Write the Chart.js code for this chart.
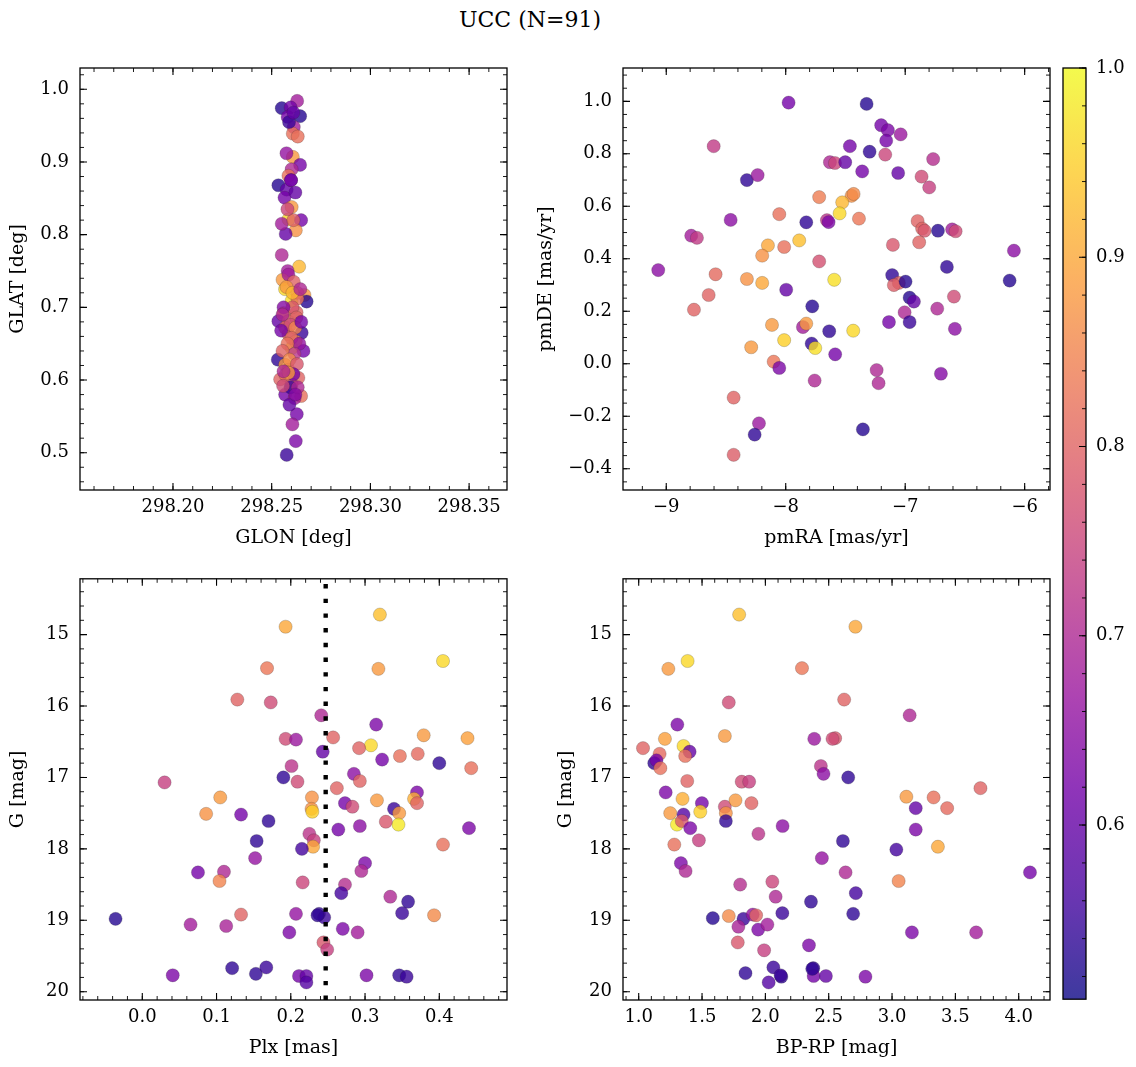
<!DOCTYPE html>
<html>
<head>
<meta charset="utf-8">
<script src="https://cdn.jsdelivr.net/npm/chart.js@4.4.1/dist/chart.umd.min.js"></script>
<style>
  html, body { margin:0; padding:0; background:#fff; }
  #wrap { position:relative; width:1136px; height:1067px; overflow:hidden; background:#fff; }
  #title { position:absolute; left:0; width:1060px; top:6px; text-align:center; font-family:"DejaVu Serif", serif; font-size:22px; line-height:28px; color:#000; }
  canvas { position:absolute; }
</style>
</head>
<body>
<div id="wrap"><div id="title">UCC (N=91)</div></div>
<script>
// ---------------- DATA ----------------
// Panel 1: sky position
const glon = [298.2551,298.2629,298.2596,298.2644,298.2581,298.2612,298.2607,298.2607,298.2644,298.2601,
  298.2585,298.2534,298.2576,298.2598,298.2565,298.2601,298.2585,298.2649,298.2622,298.2571,
  298.2551,298.2551,298.2639,298.2581,298.2555,298.2568,298.2601,298.2666,298.2677,298.2629,
  298.2560,298.2534,298.2585,298.2626,298.2652,298.2585,298.2568,298.2531,298.2601,298.2622,
  298.2661,298.2568,298.2585,298.2543,298.2635,298.2601,298.2568,298.2649,298.2616,298.2627,
  298.2605,298.2622,298.2576,
  298.2585,298.2612,298.2575,298.2630,298.2605,298.2560,298.2625,298.2595,298.2548,298.2620,
  298.2600,298.2640,298.2580,298.2615,298.2555,298.2590,298.2628,298.2570,298.2610,298.2595,
  298.2558,298.2632,298.2590,298.2610,298.2580,298.2620,298.2598,298.2588,298.2610,298.2575,
  298.2632,298.2555,298.2650,298.2605,298.2645,298.2585,298.2620,298.2560];
const glat = [0.974,0.984,0.975,0.963,0.962,0.948,0.939,0.907,0.896,0.890,
  0.881,0.868,0.862,0.875,0.851,0.838,0.821,0.820,0.806,0.801,
  0.815,0.772,0.756,0.750,0.738,0.725,0.709,0.717,0.708,0.720,
  0.692,0.681,0.681,0.693,0.665,0.663,0.672,0.628,0.644,0.653,
  0.640,0.621,0.614,0.601,0.603,0.594,0.580,0.578,0.575,0.553,
  0.539,0.516,0.497,
  0.745,0.735,0.728,0.712,0.700,0.700,0.686,0.676,0.668,0.672,
  0.658,0.650,0.650,0.636,0.640,0.628,0.622,0.607,0.608,0.590,
  0.592,0.590,0.566,0.820,0.835,0.858,0.875,0.955,0.968,0.912,
  0.935,0.690,0.680,0.720,0.725,0.610,0.580,0.612];
const probSky = [0.53,0.68,0.62,0.53,0.62,0.68,0.82,0.88,0.62,0.70,
  0.82,0.53,0.60,0.62,0.62,0.88,0.96,0.62,0.87,0.60,
  0.68,0.70,0.92,0.68,0.88,0.96,0.97,0.88,0.53,0.80,
  0.88,0.60,0.80,0.80,0.55,0.80,0.80,0.54,0.96,0.88,
  0.62,0.88,0.82,0.80,0.80,0.75,0.62,0.82,0.68,0.62,
  0.68,0.63,0.55,
  0.68,0.80,0.88,0.82,0.78,0.64,0.80,0.76,0.62,0.85,
  0.80,0.66,0.82,0.72,0.80,0.86,0.78,0.82,0.62,0.55,
  0.76,0.70,0.60,0.80,0.75,0.60,0.62,0.55,0.60,0.66,
  0.82,0.70,0.62,0.92,0.70,0.88,0.64,0.70];

// Panel 2: proper motions
const pmra = [-7.976,-7.323,-7.201,-7.145,-7.159,-7.038,-8.603,-7.463,-7.298,-7.167,
  -6.766,-7.630,-7.588,-7.502,-7.360,-7.059,-6.863,-6.799,-8.325,-8.235,
  -7.720,-7.449,-7.432,-7.527,-7.549,-8.054,-7.387,-7.828,-7.655,-7.641,
  -8.461,-6.896,-6.858,-6.838,-6.726,-6.607,-6.578,-8.791,-8.743,-6.090,
  -9.067,-7.103,-6.883,-8.149,-8.013,-7.887,-8.197,-7.720,-6.651,-8.587,
  -8.325,-8.197,-7.594,-7.109,-7.053,-7.095,-6.997,-6.126,-7.996,-8.645,
  -8.768,-7.778,-6.963,-6.927,-6.592,-6.732,-7.005,-7.136,-6.963,-6.584,
  -8.115,-7.856,-7.828,-7.636,-7.435,-8.013,-8.289,-7.783,-7.753,-7.586,
  -8.101,-8.054,-7.239,-7.223,-6.701,-7.758,-8.436,-8.224,-8.260,-7.354,
  -8.436];
const pmde = [0.995,0.990,0.909,0.890,0.850,0.874,0.829,0.829,0.808,0.797,
  0.780,0.768,0.765,0.768,0.733,0.727,0.713,0.672,0.700,0.719,
  0.635,0.640,0.647,0.615,0.573,0.570,0.553,0.539,0.547,0.540,
  0.548,0.544,0.515,0.507,0.507,0.512,0.505,0.488,0.480,0.431,
  0.357,0.453,0.463,0.451,0.445,0.470,0.412,0.390,0.369,0.341,
  0.323,0.308,0.320,0.338,0.308,0.300,0.313,0.317,0.282,0.262,
  0.206,0.219,0.252,0.237,0.256,0.210,0.196,0.159,0.159,0.133,
  0.148,0.140,0.153,0.124,0.126,0.090,0.063,0.077,0.060,0.036,
  0.008,-0.016,-0.024,-0.074,-0.038,-0.064,-0.129,-0.227,-0.270,-0.250,
  -0.347];
const probPM = [0.62,0.53,0.62,0.63,0.62,0.67,0.73,0.62,0.54,0.75,
  0.71,0.70,0.75,0.60,0.62,0.60,0.76,0.74,0.54,0.67,
  0.84,0.87,0.86,0.92,0.96,0.82,0.83,0.54,0.72,0.63,
  0.65,0.80,0.80,0.78,0.53,0.68,0.76,0.68,0.73,0.65,
  0.65,0.78,0.80,0.90,0.82,0.93,0.87,0.77,0.54,0.81,
  0.87,0.90,0.97,0.54,0.80,0.79,0.53,0.53,0.60,0.80,
  0.80,0.53,0.53,0.60,0.76,0.70,0.70,0.62,0.55,0.65,
  0.88,0.68,0.88,0.54,0.96,0.95,0.88,0.54,0.97,0.62,
  0.83,0.63,0.70,0.70,0.64,0.70,0.80,0.67,0.54,0.53,
  0.79];

// Panel 3: parallax vs G
const plx = [0.320,0.193,0.405,0.168,0.318,0.128,0.173,0.241,0.315,0.379,0.438,0.193,0.207,0.257,0.308,0.292,0.243,0.323,0.347,0.371,0.400,0.443,0.201,0.030,0.190,0.209,0.285,0.293,0.262,0.370,0.105,
  0.2285,0.316,0.366,0.370,0.086,0.133,0.170,0.228,0.229,0.273,
  0.283,0.339,0.346,0.345,0.328,0.264,0.293,0.440,0.154,0.225,
  0.231,0.230,0.215,0.405,0.152,0.300,0.295,0.075,0.110,0.104,
  0.216,0.273,0.268,0.334,0.358,-0.036,0.065,0.113,0.133,0.207,
  0.238,0.245,0.350,0.393,0.198,0.270,0.290,0.244,0.249,0.121,
  0.153,0.167,0.041,0.211,0.221,0.221,0.302,0.346,0.356,0.236];
const gPlx = [14.72,14.89,15.37,15.47,15.48,15.91,15.95,16.13,16.26,16.41,16.45,16.46,16.47,16.44,16.55,16.59,16.64,16.75,16.70,16.67,16.80,16.87,16.84,17.07,17.00,17.06,16.95,17.05,17.15,17.21,17.28,
  17.28,17.32,17.30,17.36,17.51,17.52,17.61,17.44,17.48,17.36,
  17.41,17.44,17.50,17.66,17.62,17.73,17.68,17.71,17.89,17.79,
  17.88,17.97,18.00,17.94,18.13,18.20,18.31,18.33,18.32,18.45,
  18.47,18.50,18.62,18.67,18.74,18.98,19.06,19.08,18.92,18.91,
  18.91,18.96,18.90,18.93,19.17,19.12,19.17,19.31,19.41,19.67,
  19.75,19.66,19.77,19.78,19.78,19.87,19.77,19.77,19.79,18.93];
const probPlx = [0.93,0.90,0.96,0.83,0.88,0.80,0.76,0.70,0.63,0.88,0.89,0.76,0.67,0.80,0.96,0.80,0.60,0.62,0.82,0.81,0.54,0.82,0.72,0.74,0.54,0.76,0.65,0.80,0.80,0.63,0.88,
  0.87,0.88,0.91,0.80,0.87,0.62,0.54,0.87,0.95,0.62,
  0.76,0.55,0.88,0.98,0.78,0.62,0.65,0.63,0.54,0.72,
  0.74,0.90,0.56,0.82,0.66,0.63,0.70,0.62,0.70,0.85,
  0.75,0.71,0.56,0.70,0.54,0.53,0.68,0.69,0.80,0.66,
  0.54,0.55,0.55,0.86,0.63,0.63,0.68,0.78,0.74,0.54,
  0.54,0.55,0.63,0.62,0.60,0.58,0.63,0.54,0.55,0.54];
const plxCut = 0.247;

// Panel 4: colour-magnitude
const bprp = [1.793,2.711,1.386,1.234,2.289,1.711,2.622,3.139,1.305,1.207,1.680,2.386,2.551,2.530,1.034,1.354,1.402,1.165,1.367,1.123,1.140,1.171,2.438,2.459,2.654,1.383,1.813,1.872,3.698,
  1.213,1.346,1.499,1.680,1.764,1.890,3.113,3.328,3.435,3.187,
  1.249,1.354,1.486,1.688,1.688,1.302,1.340,1.407,1.475,1.945,
  2.136,3.187,1.281,2.612,3.034,3.362,1.333,1.370,2.446,2.633,
  4.089,3.052,1.801,2.055,2.081,2.360,2.714,1.585,1.711,1.827,
  1.900,1.927,2.134,2.693,1.787,1.943,2.016,3.157,3.664,1.782,
  1.990,2.344,1.843,2.063,2.126,2.026,2.378,2.381,2.478,2.790,2.370,2.120];
const gCol = [14.72,14.89,15.37,15.48,15.47,15.95,15.91,16.13,16.26,16.46,16.42,16.46,16.45,16.46,16.59,16.56,16.64,16.67,16.70,16.80,16.76,16.87,16.84,16.95,17.00,17.05,17.06,17.06,17.15,
  17.21,17.30,17.36,17.41,17.32,17.36,17.27,17.28,17.43,17.43,
  17.50,17.52,17.48,17.50,17.61,17.66,17.61,17.71,17.88,17.79,
  17.68,17.73,17.94,17.89,18.01,17.97,18.20,18.31,18.13,18.33,
  18.33,18.45,18.50,18.46,18.67,18.74,18.62,18.97,18.94,18.98,
  18.92,18.93,18.90,18.91,19.09,19.13,19.06,19.17,19.17,19.31,
  19.42,19.35,19.74,19.66,19.79,19.87,19.67,19.78,19.78,19.79,19.68,19.77];
const probCol = [0.93,0.90,0.96,0.88,0.83,0.76,0.80,0.70,0.63,0.89,0.88,0.67,0.78,0.76,0.80,0.96,0.60,0.81,0.82,0.54,0.62,0.82,0.72,0.65,0.54,0.80,0.76,0.74,0.80,
  0.63,0.91,0.62,0.76,0.88,0.80,0.88,0.82,0.81,0.60,
  0.88,0.58,0.95,0.87,0.54,0.98,0.78,0.63,0.74,0.72,
  0.65,0.63,0.82,0.54,0.56,0.90,0.63,0.70,0.66,0.70,
  0.62,0.85,0.71,0.75,0.70,0.54,0.56,0.53,0.86,0.55,
  0.66,0.80,0.55,0.54,0.69,0.63,0.68,0.63,0.68,0.78,
  0.74,0.63,0.54,0.55,0.54,0.58,0.54,0.62,0.60,0.63,0.54,0.55];

// Tick labels
const ticksGlon = [298.20, 298.25, 298.30, 298.35];
const ticksGlat = [0.5, 0.6, 0.7, 0.8, 0.9, 1.0];
const ticksPmra = [-9, -8, -7, -6];
const ticksPmde = [-0.4, -0.2, 0.0, 0.2, 0.4, 0.6, 0.8, 1.0];
const ticksPlx = [0.0, 0.1, 0.2, 0.3, 0.4];
const ticksG = [15, 16, 17, 18, 19, 20];
const ticksBprp = [1.0, 1.5, 2.0, 2.5, 3.0, 3.5, 4.0];
const ticksProb = [0.6, 0.7, 0.8, 0.9, 1.0];
const probMin = 0.508, probMax = 1.0;

// ---------------- STYLE / HELPERS ----------------
const FONT = "DejaVu Serif";
const FS = 18;       // tick labels
const FT = 19;       // axis titles
const LHT = FT * 1.2;
const PLASMA = ['#0d0887','#46039f','#7201a8','#9c179e','#bd3786','#d8576b','#ed7953','#fb9f3a','#fdca26','#f0f921'];
function hex2rgb(h){ return [parseInt(h.slice(1,3),16), parseInt(h.slice(3,5),16), parseInt(h.slice(5,7),16)]; }
const PL = PLASMA.map(hex2rgb);
function plasmaT(t, a) {
  t = Math.max(0, Math.min(1, t));
  const f = t * (PL.length - 1);
  const i = Math.min(PL.length - 2, Math.floor(f));
  const u = f - i;
  const c = PL[i].map((v, k) => Math.round(v + (PL[i+1][k] - v) * u));
  return `rgba(${c[0]},${c[1]},${c[2]},${a})`;
}
function probColor(p) { return plasmaT((p - probMin) / (probMax - probMin), 0.8); }
const fmtMinus = (s) => s.replace('-', '\u2212');

function minorVals(min, max, step) {
  const out = [];
  const s = Math.ceil(min / step - 1e-9);
  for (let k = s; k * step <= max + 1e-9; k++) out.push(+(k * step).toFixed(6));
  return out;
}

const frameTicks = {
  id: 'frameTicks',
  afterDraw(chart, args, o) {
    const { ctx, chartArea: { left, top, right, bottom } } = chart;
    ctx.save();
    ctx.strokeStyle = '#000';
    const xs = chart.scales.x, ys = chart.scales.y;
    const MJ = 7, MN = 4;
    function vert(vals, len, lw, sides) {
      ctx.lineWidth = lw; ctx.beginPath();
      vals.forEach(v => {
        const p = xs.getPixelForValue(v);
        if (p < left - 0.5 || p > right + 0.5) return;
        if (sides.includes('b')) { ctx.moveTo(p, bottom); ctx.lineTo(p, bottom - len); }
        if (sides.includes('t')) { ctx.moveTo(p, top); ctx.lineTo(p, top + len); }
      });
      ctx.stroke();
    }
    function horiz(vals, len, lw, sides) {
      ctx.lineWidth = lw; ctx.beginPath();
      vals.forEach(v => {
        const p = ys.getPixelForValue(v);
        if (p < top - 0.5 || p > bottom + 0.5) return;
        if (sides.includes('l')) { ctx.moveTo(left, p); ctx.lineTo(left + len, p); }
        if (sides.includes('r')) { ctx.moveTo(right, p); ctx.lineTo(right - len, p); }
      });
      ctx.stroke();
    }
    if (o.xMajor) { vert(o.xMinor, MN, 0.9, 'bt'); vert(o.xMajor, MJ, 1.1, 'bt'); }
    if (o.yMajor) { horiz(o.yMinor, MN, 0.9, o.ySides || 'lr'); horiz(o.yMajor, MJ, 1.1, o.ySides || 'lr'); }
    ctx.lineWidth = 1.3;
    ctx.strokeRect(left, top, right - left, bottom - top);
    ctx.restore();
  }
};

const wrap = document.getElementById('wrap');
function makeCanvas(box) {
  const cv = document.createElement('canvas');
  cv.width = box.w; cv.height = box.h;
  cv.style.left = box.x + 'px'; cv.style.top = box.y + 'px';
  cv.style.width = box.w + 'px'; cv.style.height = box.h + 'px';
  wrap.appendChild(cv);
  return cv;
}

function scatterPanel(c) {
  const { box, area } = c;
  const cv = makeCanvas(box);
  const font = { family: FONT, size: FS };
  const tfont = { family: FONT, size: FT };
  const pts = c.xv.map((v, i) => ({ x: v, y: c.yv[i] }));
  const datasets = [{
    type: 'scatter',
    data: pts,
    backgroundColor: c.pv.map(probColor),
    borderColor: 'rgba(40,40,40,0.35)',
    borderWidth: 0.6,
    pointRadius: 6.6,
    order: 1
  }];
  if (c.extra) datasets.push(c.extra);
  new Chart(cv, {
    type: 'scatter',
    data: { datasets },
    options: {
      responsive: false, animation: false, devicePixelRatio: 1,
      layout: { padding: { left: 0, top: area.t - box.y, right: box.x + box.w - area.r, bottom: 0 } },
      plugins: {
        legend: { display: false }, tooltip: { enabled: false },
        frameTicks: {
          xMajor: c.xTicks, xMinor: minorVals(c.xMin, c.xMax, c.xMinorStep),
          yMajor: c.yTicks, yMinor: minorVals(Math.min(c.yMin, c.yMax), Math.max(c.yMin, c.yMax), c.yMinorStep)
        }
      },
      scales: {
        x: {
          type: 'linear', min: c.xMin, max: c.xMax,
          grid: { display: false, drawTicks: false }, border: { display: false },
          afterBuildTicks: s => { s.ticks = c.xTicks.map(v => ({ value: v })); },
          afterFit: s => { s.height = box.y + box.h - area.b; },
          ticks: { autoSkip: false, maxRotation: 0, padding: 7, font, color: '#000', callback: v => fmtMinus(c.xFmt(v)) },
          title: { display: true, text: c.xTitle, font: tfont, color: '#000', padding: { top: 0, bottom: box.y + box.h - c.xTitleY - LHT / 2 } }
        },
        y: {
          type: 'linear', min: c.yMin, max: c.yMax, reverse: !!c.yReverse,
          grid: { display: false, drawTicks: false }, border: { display: false },
          afterBuildTicks: s => { s.ticks = c.yTicks.map(v => ({ value: v })); },
          afterFit: s => { s.width = area.l - box.x; },
          ticks: { autoSkip: false, padding: 11, font, color: '#000', callback: v => fmtMinus(c.yFmt(v)) },
          title: { display: true, text: c.yTitle, font: tfont, color: '#000', padding: { top: c.yTitleX - box.x - LHT / 2, bottom: 0 } }
        }
      }
    },
    plugins: [frameTicks]
  });
}

// ---------------- PANELS ----------------
scatterPanel({
  box: { x: 0, y: 40, w: 520, h: 515 }, area: { l: 80, t: 68, r: 507, b: 490 },
  xv: glon, yv: glat, pv: probSky,
  xMin: 298.1529, xMax: 298.3692, xTicks: ticksGlon, xMinorStep: 0.01, xFmt: v => v.toFixed(2),
  yMin: 0.4487, yMax: 1.0293, yTicks: ticksGlat, yMinorStep: 0.02, yFmt: v => v.toFixed(1),
  xTitle: 'GLON [deg]', yTitle: 'GLAT [deg]', xTitleY: 538, yTitleX: 18
});

scatterPanel({
  box: { x: 520, y: 40, w: 540, h: 515 }, area: { l: 623, t: 68, r: 1050, b: 490 },
  xv: pmra, yv: pmde, pv: probPM,
  xMin: -9.362, xMax: -5.788, xTicks: ticksPmra, xMinorStep: 0.2, xFmt: v => v.toFixed(0),
  yMin: -0.481, yMax: 1.127, yTicks: ticksPmde, yMinorStep: 0.05, yFmt: v => v.toFixed(1),
  xTitle: 'pmRA [mas/yr]', yTitle: 'pmDE [mas/yr]', xTitleY: 538, yTitleX: 546
});

scatterPanel({
  box: { x: 0, y: 557, w: 520, h: 510 }, area: { l: 80, t: 577, r: 507, b: 1000 },
  xv: plx, yv: gPlx, pv: probPlx,
  xMin: -0.0839, xMax: 0.4912, xTicks: ticksPlx, xMinorStep: 0.02, xFmt: v => v.toFixed(1),
  yMin: 14.219, yMax: 20.116, yReverse: true, yTicks: ticksG, yMinorStep: 0.2, yFmt: v => v.toFixed(0),
  xTitle: 'Plx [mas]', yTitle: 'G [mag]', xTitleY: 1048, yTitleX: 18,
  extra: {
    type: 'line',
    data: [{ x: plxCut, y: 20.116 }, { x: plxCut, y: 14.219 }],
    borderColor: '#000', borderWidth: 4.4, borderDash: [4.4, 10.3], borderCapStyle: 'butt',
    pointRadius: 0, fill: false, order: 0
  }
});

scatterPanel({
  box: { x: 520, y: 557, w: 540, h: 510 }, area: { l: 623, t: 577, r: 1050, b: 1000 },
  xv: bprp, yv: gCol, pv: probCol,
  xMin: 0.876, xMax: 4.247, xTicks: ticksBprp, xMinorStep: 0.1, xFmt: v => v.toFixed(1),
  yMin: 14.219, yMax: 20.116, yReverse: true, yTicks: ticksG, yMinorStep: 0.2, yFmt: v => v.toFixed(0),
  xTitle: 'BP-RP [mag]', yTitle: 'G [mag]', xTitleY: 1048, yTitleX: 566
});

// ---------------- COLORBAR ----------------
(function () {
  const box = { x: 1056, y: 40, w: 80, h: 980 };
  const area = { l: 1063, t: 68, r: 1086, b: 1000 };
  const cv = makeCanvas(box);
  const font = { family: FONT, size: FS };
  new Chart(cv, {
    type: 'bar',
    data: {
      labels: ['prob'],
      datasets: [{
        data: [[probMin, probMax]],
        borderWidth: 0, barPercentage: 1, categoryPercentage: 1,
        backgroundColor: (ctx) => {
          const ch = ctx.chart;
          if (!ch.chartArea) return probColor(0.75);
          const ys = ch.scales.y;
          const y0 = ys.getPixelForValue(probMin), y1 = ys.getPixelForValue(probMax);
          const g = ch.ctx.createLinearGradient(0, y0, 0, y1);
          for (let k = 0; k <= 40; k++) g.addColorStop(k / 40, plasmaT(k / 40, 0.8));
          return g;
        }
      }]
    },
    options: {
      responsive: false, animation: false, devicePixelRatio: 1,
      layout: { padding: { left: area.l - box.x, top: area.t - box.y, right: 0, bottom: box.y + box.h - area.b } },
      plugins: {
        legend: { display: false }, tooltip: { enabled: false },
        frameTicks: { yMajor: ticksProb, yMinor: minorVals(probMin, probMax, 0.02), ySides: 'r' }
      },
      scales: {
        x: { display: false },
        y: {
          position: 'right', min: probMin, max: probMax,
          grid: { display: false, drawTicks: false }, border: { display: false },
          afterBuildTicks: s => { s.ticks = ticksProb.map(v => ({ value: v })); },
          afterFit: s => { s.width = box.x + box.w - area.r; },
          ticks: { autoSkip: false, padding: 10, font, color: '#000', callback: v => v.toFixed(1) }
        }
      }
    },
    plugins: [frameTicks]
  });
})();
</script>
</body>
</html>
